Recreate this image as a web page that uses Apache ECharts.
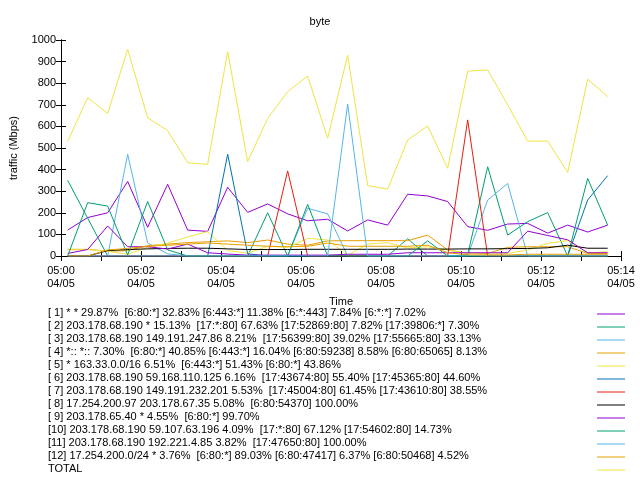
<!DOCTYPE html>
<html><head><meta charset="utf-8">
<script src="https://cdn.jsdelivr.net/npm/echarts@6/dist/echarts.min.js"></script>
<style>html,body{margin:0;padding:0;background:#fff}#c{width:640px;height:480px}</style>
</head><body><div id="c"></div>
<script>
// seconds after 05:00 on 04/05
const times = [10,40,70,100,130,160,190,220,250,280,310,340,370,400,430,460,490,520,550,580,610,640,670,700,730,760,790,820];
const seriesNames = [
  "[ 1] * * 29.87%  [6:80:*] 32.83% [6:443:*] 11.38% [6:*:443] 7.84% [6:*:*] 7.02%",
  "[ 2] 203.178.68.190 * 15.13%  [17:*:80] 67.63% [17:52869:80] 7.82% [17:39806:*] 7.30%",
  "[ 3] 203.178.68.190 149.191.247.86 8.21%  [17:56399:80] 39.02% [17:55665:80] 33.13%",
  "[ 4] *:: *:: 7.30%  [6:80:*] 40.85% [6:443:*] 16.04% [6:80:59238] 8.58% [6:80:65065] 8.13%",
  "[ 5] * 163.33.0.0/16 6.51%  [6:443:*] 51.43% [6:80:*] 43.86%",
  "[ 6] 203.178.68.190 59.168.110.125 6.16%  [17:43674:80] 55.40% [17:45365:80] 44.60%",
  "[ 7] 203.178.68.190 149.191.232.201 5.53%  [17:45004:80] 61.45% [17:43610:80] 38.55%",
  "[ 8] 17.254.200.97 203.178.67.35 5.08%  [6:80:54370] 100.00%",
  "[ 9] 203.178.65.40 * 4.55%  [6:80:*] 99.70%",
  "[10] 203.178.68.190 59.107.63.196 4.09%  [17:*:80] 67.12% [17:54602:80] 14.73%",
  "[11] 203.178.68.190 192.221.4.85 3.82%  [17:47650:80] 100.00%",
  "[12] 17.254.200.0/24 * 3.76%  [6:80:*] 89.03% [6:80:47417] 6.37% [6:80:50468] 4.52%",
  "TOTAL"
];
const colors = ["#9400d3","#009e73","#56b4e9","#e69f00","#f0e442","#0072b2","#e51e10","#000000","#9400d3","#009e73","#56b4e9","#e69f00","#f0e442"];

const s1  = [120,178,200,345,133,332,120,114,318,202,241,195,163,170,116,167,143,286,278,252,136,119,148,151,106,143,111,143];
const s2  = [350,175,0,0,0,0,0,0,0,0,200,0,0,0,0,0,0,80,0,0,5,413,97,159,201,0,359,143];
const s3  = [0,0,0,471,60,10,0,0,0,0,0,0,221,195,0,0,0,0,0,0,0,259,336,0,0,0,0,0];
const s4  = [31,31,22,25,48,55,62,66,70,62,74,55,50,70,71,71,71,71,97,28,12,12,40,43,43,43,12,12];
const s5  = [28,30,22,8,40,60,88,113,25,13,45,40,82,74,3,55,62,37,43,28,13,8,12,28,59,71,15,20];
const s6  = [0,0,0,0,0,0,0,0,471,10,0,0,0,0,0,0,0,0,0,0,0,0,0,0,0,0,259,372];
const s7  = [0,0,0,0,0,0,0,0,0,0,0,394,0,0,0,0,0,0,0,0,630,0,0,0,0,0,0,0];
const s8  = [0,0,25,30,33,35,36,36,33,30,30,30,31,31,31,31,31,32,32,32,33,33,34,35,38,50,36,36];
const s9  = [12,30,139,43,43,32,55,15,9,4,4,4,4,4,8,8,8,15,15,15,15,15,15,115,95,75,15,15];
const s10 = [0,247,231,5,252,28,0,0,0,0,0,0,239,0,0,0,0,0,70,0,0,0,0,0,0,0,0,0];
const s11 = [0,0,0,0,0,0,0,0,0,0,0,0,0,0,704,0,0,0,0,0,0,0,0,0,0,0,0,0];
const s12 = [0,0,28,35,45,50,55,60,55,50,45,43,45,60,45,45,45,45,50,15,5,5,5,8,8,8,8,8];
const total = [530,733,660,957,640,580,432,424,946,437,637,761,833,545,930,326,310,537,602,406,856,861,700,532,532,387,818,738];

const yTicks = [0,100,200,300,400,500,600,700,800,900,1000];
const xLabelMinutes = ["05:00","05:02","05:04","05:06","05:08","05:10","05:12","05:14"];
const dateLabel = "04/05";

const allData = [s1,s2,s3,s4,s5,s6,s7,s8,s9,s10,s11,s12,total];
const FONT = "Liberation Sans";

const series = allData.map((arr, i) => ({
  name: seriesNames[i],
  type: 'line',
  data: arr.map((v, k) => [times[k], v]),
  showSymbol: false,
  symbol: 'none',
  lineStyle: {color: colors[i], width: 1},
  itemStyle: {color: colors[i]},
  animation: false,
  clip: true
}));

const tickStyle = {show: true, inside: true, length: 5, lineStyle: {color: '#000', width: 1}};
const chart = echarts.init(document.getElementById('c'), null, {renderer: 'canvas'});
const legendGraphics = [];
seriesNames.forEach((n, i) => {
  const y = 314 + 13 * i;
  legendGraphics.push({type: 'text', left: 48, top: y - 7, style: {text: n, font: '11px "' + FONT + '"', fill: '#000'}});
  legendGraphics.push({type: 'line', shape: {x1: 597, y1: y, x2: 625, y2: y}, style: {stroke: colors[i], lineWidth: 1}});
});

chart.setOption({
  backgroundColor: '#fff',
  animation: false,
  title: {text: 'byte', left: 'center', top: 11, textStyle: {fontFamily: FONT, fontSize: 11, fontWeight: 'normal', color: '#000'}},
  grid: {left: 59, right: 19, top: 40, bottom: 224, show: false},
  xAxis: [{
    type: 'value', min: 0, max: 840, interval: 60,
    name: 'Time', nameLocation: 'middle', nameGap: 40,
    nameTextStyle: {fontFamily: FONT, fontSize: 11, color: '#000'},
    axisLine: {show: true, lineStyle: {color: '#000', width: 1}},
    axisTick: tickStyle,
    splitLine: {show: false},
    axisLabel: {
      fontFamily: FONT, fontSize: 11, color: '#000', margin: 8, lineHeight: 13,
      formatter: v => (v % 120 === 0 ? xLabelMinutes[v / 120] + '\n' + dateLabel : '')
    }
  }, {
    type: 'value', min: 0, max: 840, interval: 60, position: 'top',
    axisLine: {show: true, lineStyle: {color: '#000', width: 1}},
    axisTick: tickStyle, axisLabel: {show: false}, splitLine: {show: false}
  }],
  yAxis: [{
    type: 'value', min: yTicks[0], max: yTicks[yTicks.length - 1], interval: 100,
    name: 'traffic (Mbps)', nameLocation: 'middle', nameGap: 42, nameRotate: 90,
    nameTextStyle: {fontFamily: FONT, fontSize: 11, color: '#000'},
    axisLine: {show: true, lineStyle: {color: '#000', width: 1}},
    axisTick: tickStyle, splitLine: {show: false},
    axisLabel: {fontFamily: FONT, fontSize: 11, color: '#000', margin: 5, formatter: v => String(v)}
  }, {
    type: 'value', min: 0, max: 1000, interval: 100, position: 'right',
    axisLine: {show: true, lineStyle: {color: '#000', width: 1}},
    axisTick: tickStyle, axisLabel: {show: false}, splitLine: {show: false}
  }],
  series: series,
  graphic: legendGraphics
});
</script></body></html>
